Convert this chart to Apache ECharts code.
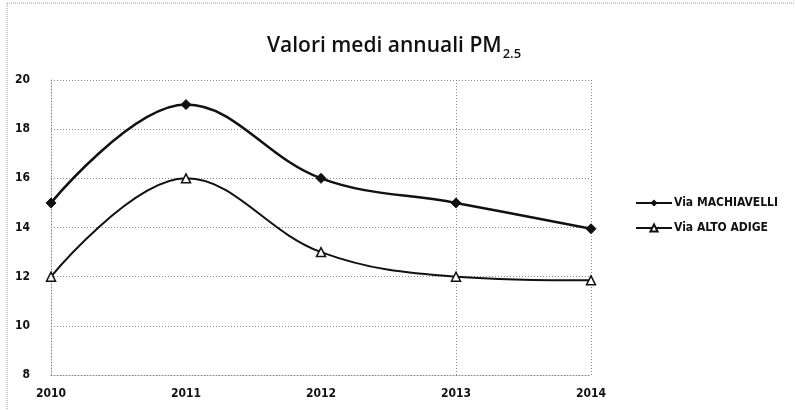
<!DOCTYPE html>
<html>
<head>
<meta charset="utf-8">
<script src="https://cdn.jsdelivr.net/npm/echarts@6/dist/echarts.min.js"></script>
<style>
  html, body { margin: 0; padding: 0; background: #fff; }
  #chart { width: 795px; height: 410px; }
</style>
</head>
<body>
<div id="chart"></div>
<script>
// dati
const anni = ['2010', '2011', '2012', '2013', '2014'];
const machiavelli = [15, 19, 16, 15, 13.95];
const altoAdige = [12, 16, 13, 12, 11.85];

const chart = echarts.init(document.getElementById('chart'));

const option = {
    backgroundColor: '#fff',
    animation: false,
    textStyle: { fontFamily: 'DejaVu Sans' },
    title: {
        text: '{t|Valori medi annuali PM}{s|2.5}',
        left: 262,
        top: 26,
        textStyle: {
            rich: {
                t: { fontSize: 21, color: '#111', fontFamily: 'Open Sans', fontWeight: 600, verticalAlign: 'bottom', lineHeight: 26 },
                s: { fontSize: 13, color: '#111', fontFamily: 'Open Sans', fontWeight: 600, verticalAlign: 'bottom', lineHeight: 15, padding: [0, 0, -4, 1] }
            }
        }
    },
    graphic: [{
        type: 'rect',
        shape: { x: 7, y: 3, width: 820, height: 440 },
        style: { fill: 'none', stroke: '#999', lineWidth: 1, lineDash: [1, 1] },
        silent: true
    }],
    legend: {
        orient: 'vertical',
        left: 630,
        top: 192,
        itemWidth: 36,
        itemHeight: 9,
        itemGap: 13,
        textStyle: { fontSize: 12, color: '#111', fontFamily: 'DejaVu Sans Condensed', fontWeight: 'bold', padding: [0, 0, 0, -3] },
        data: ['Via MACHIAVELLI', 'Via ALTO ADIGE']
    },
    grid: { left: 51, right: 204, top: 80, bottom: 35 },
    xAxis: {
        type: 'category',
        data: anni,
        boundaryGap: false,
        axisLine: { lineStyle: { color: '#888', type: [1, 2] } },
        axisTick: { show: false },
        axisLabel: { color: '#111', fontSize: 12, margin: 13, fontFamily: 'DejaVu Sans Condensed', fontWeight: 'bold' },
        splitLine: {
            show: true,
            interval: function (index) { return index >= 3; },
            lineStyle: { color: '#888', type: [1, 2] }
        }
    },
    yAxis: {
        type: 'value',
        min: 8,
        max: 20,
        interval: 2,
        axisLine: { show: true, lineStyle: { color: '#888', type: [1, 2] } },
        axisTick: { show: false },
        axisLabel: { color: '#111', fontSize: 12, margin: 21, fontFamily: 'DejaVu Sans Condensed', fontWeight: 'bold' },
        splitLine: { lineStyle: { color: '#888', type: [1, 2] } }
    },
    series: [
        {
            name: 'Via MACHIAVELLI',
            type: 'line',
            data: machiavelli,
            smooth: 0.38,
            symbol: 'diamond',
            symbolSize: 10,
            lineStyle: { color: '#111', width: 2.5 },
            itemStyle: { color: '#111', borderColor: '#111' }
        },
        {
            name: 'Via ALTO ADIGE',
            type: 'line',
            data: altoAdige,
            smooth: 0.38,
            symbol: 'triangle',
            symbolSize: 9,
            lineStyle: { color: '#111', width: 2 },
            itemStyle: { color: '#fff', borderColor: '#111', borderWidth: 1.5 }
        }
    ]
};

chart.setOption(option);
</script>
</body>
</html>
